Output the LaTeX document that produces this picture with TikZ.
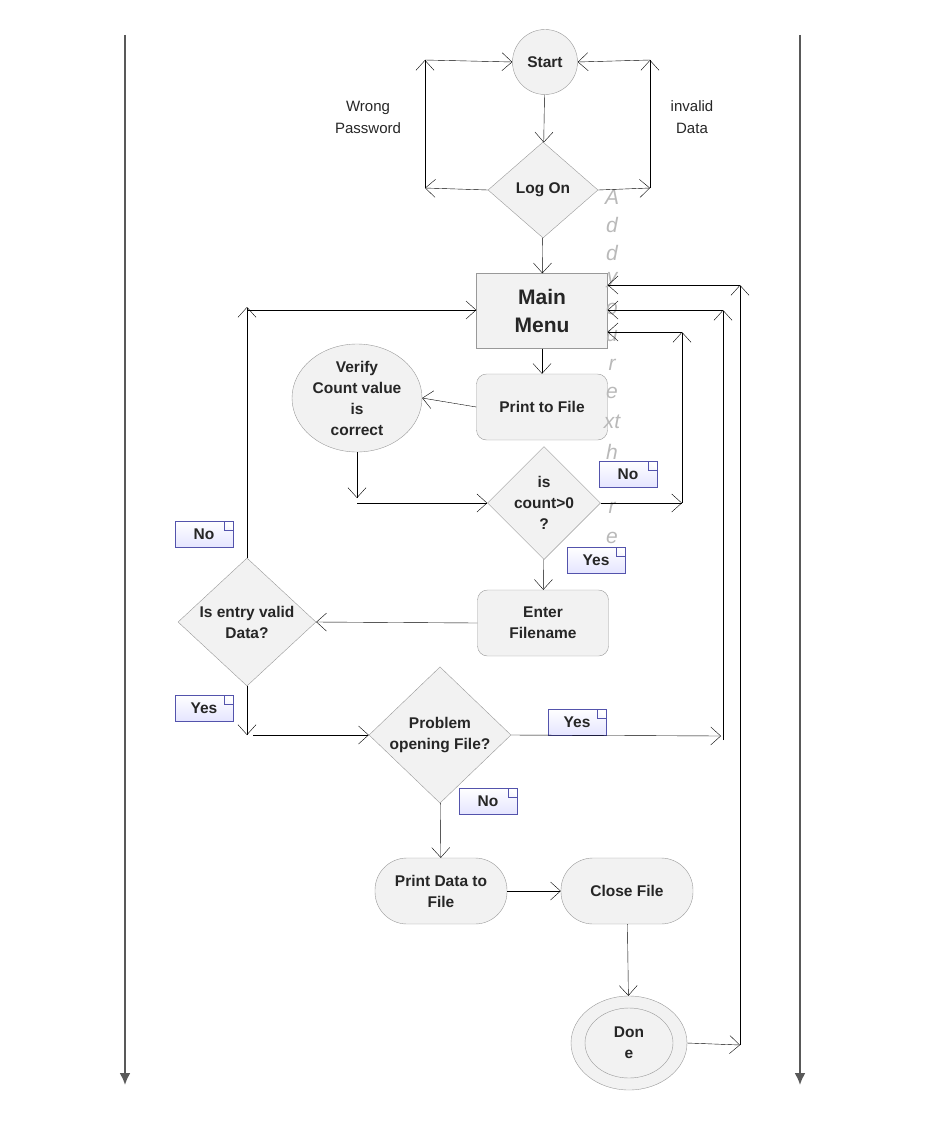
\documentclass[tikz,border=0pt]{standalone}
\usepackage{fontspec}
\setmainfont{Liberation Sans}
\usetikzlibrary{shapes.geometric,arrows.meta,positioning}

\begin{document}
\begin{tikzpicture}[
    x=1pt, y=-1pt,
    every node/.style={font=\fontsize{15.5}{21}\selectfont\bfseries, text=black!85},
    box/.style={rectangle, draw=gray!80, fill=gray!10, align=center},
    task/.style={rectangle, rounded corners=10pt, draw=gray!80, fill=gray!10, align=center, minimum width=131pt, minimum height=66pt},
    pill/.style={rectangle, rounded corners=32pt, draw=gray!80, fill=gray!10, align=center, minimum width=132pt, minimum height=66pt},
    check/.style={diamond, draw=gray!80, fill=gray!10, align=center, inner sep=0pt},
    note/.style={rectangle, draw=blue!35!gray, top color=white, bottom color=blue!10, minimum width=58pt, minimum height=26pt, inner sep=0pt,
        path picture={\fill[white] ([xshift=-9pt]path picture bounding box.north east) -- (path picture bounding box.north east) -- ([yshift=-9pt]path picture bounding box.north east) -- cycle;
        \draw[blue!35!gray] ([xshift=-9pt]path picture bounding box.north east) |- ([yshift=-9pt]path picture bounding box.north east);}},
    arrow/.style={thin, -{Straight Barb[length=10pt, width=18pt]}},
    lane/.style={line width=2pt, draw=black!65, -{Latex[length=12pt, width=11pt]}},
    plain/.style={font=\fontsize{15}{22}\selectfont, align=center}
]
\useasboundingbox (0,0) rectangle (926,1124);

% lanes
\coordinate (laneLtop) at (125,35);  \coordinate (laneLbot) at (125,1085);
\coordinate (laneRtop) at (800,35);  \coordinate (laneRbot) at (800,1085);
\draw[lane] (laneLtop) -- (laneLbot);
\draw[lane] (laneRtop) -- (laneRbot);

% nodes
\node[circle, draw=gray!80, fill=gray!10, minimum size=65pt, inner sep=0pt] (start) at (545,62) {Start};
\node[check, minimum width=110pt, minimum height=96pt] (logon) at (543,190) {Log On};
\node[box, minimum width=131pt, minimum height=75pt, font=\fontsize{21}{28}\selectfont\bfseries] (menu) at (542,311) {Main\\Menu};
\node[task] (print) at (542,407) {Print to File};
\node[ellipse, draw=gray!80, fill=gray!10, minimum width=130pt, minimum height=108pt, align=center, inner sep=0pt] (verify) at (357,398) {Verify\\Count value\\is\\correct};
\node[check, minimum width=98pt, minimum height=86pt] (count) at (544,503) {is\\count>0\\?};
\node[task] (enter) at (543,623) {Enter\\Filename};
\node[check, minimum width=138pt, minimum height=128pt] (valid) at (247,622) {Is entry valid\\Data?};
\node[check, minimum width=142pt, minimum height=130pt] (problem) at (440,735) {Problem\\opening File?};
\node[pill] (printdata) at (441,891) {Print Data to\\File};
\node[pill] (close) at (627,891) {Close File};
\node[ellipse, draw=gray!80, fill=gray!10, minimum width=116pt, minimum height=94pt] (doneout) at (629,1043) {};
\node[ellipse, draw=gray!80, fill=gray!10, minimum width=88pt, minimum height=70pt, align=center] (done) at (629,1043) {Don\\e};

% free texts
\node[plain] (wrong) at (368,117) {Wrong\\Password};
\node[plain] (invalid) at (692,117) {invalid\\Data};
\foreach \ch/\yy in {A/197,d/225,d/253,y/280,o/309,u/336,r/365,e/393,xt/422,h/452,e/480,r/508,e/538}
    \node[font=\fontsize{21}{21}\selectfont\itshape, text=gray!55] at (612,\yy) {\ch};

% notes
\node[note] (noCount) at (628,474) {No};
\node[note] (yesCount) at (596,560) {Yes};
\node[note] (noValid) at (204,534) {No};
\node[note] (yesValid) at (204,708) {Yes};
\node[note] (yesProblem) at (577,722) {Yes};
\node[note] (noProblem) at (488,801) {No};

% bend points
\coordinate (wl) at (425,188); \coordinate (wt) at (425,60);
\coordinate (il) at (650,188); \coordinate (it) at (650,60);
\coordinate (vd) at (357,498); \coordinate (vr) at (357,503);
\coordinate (cr) at (682,503); \coordinate (ct) at (682,332);
\coordinate (ed) at (247,735); \coordinate (er) at (253,735);
\coordinate (et) at (247,307); \coordinate (etr) at (247,310);
\coordinate (pr) at (721,736); \coordinate (pb) at (723,740); \coordinate (pt) at (723,310);
\coordinate (dr) at (740,1045); \coordinate (dt) at (740,285);

% arrows
\draw[arrow] (start) -- (logon);
\draw[arrow] (logon.west) -- (wl);
\draw[arrow] (wl) -- (wt);
\draw[arrow] (wt) -- (start.west);
\draw[arrow] (logon.east) -- (il);
\draw[arrow] (il) -- (it);
\draw[arrow] (it) -- (start.east);
\draw[arrow] (logon) -- (menu);
\draw[arrow] (menu) -- (print);
\draw[arrow] (print.west) -- (verify.east);
\draw[arrow] (verify.south) -- (vd);
\draw[arrow] (vr) -- (count.west);
\draw[arrow] (count.east) -- (cr);
\draw[arrow] (cr) -- (ct);
\draw[arrow] (ct) -- (ct -| menu.east);
\draw[arrow] (count) -- (enter);
\draw[arrow] (enter.west) -- (valid.east);
\draw[arrow] (valid.north) -- (et);
\draw[arrow] (etr) -- (etr -| menu.west);
\draw[arrow] (valid.south) -- (ed);
\draw[arrow] (er) -- (problem.west);
\draw[arrow] (problem.east) -- (pr);
\draw[arrow] (pb) -- (pt);
\draw[arrow] (pt) -- (pt -| menu.east);
\draw[arrow] (problem) -- (printdata);
\draw[arrow] (printdata) -- (close);
\draw[arrow] (close) -- (doneout);
\draw[arrow] (doneout.east) -- (dr);
\draw[arrow] (dr) -- (dt);
\draw[arrow] (dt) -- (dt -| menu.east);
\end{tikzpicture}
\end{document}
